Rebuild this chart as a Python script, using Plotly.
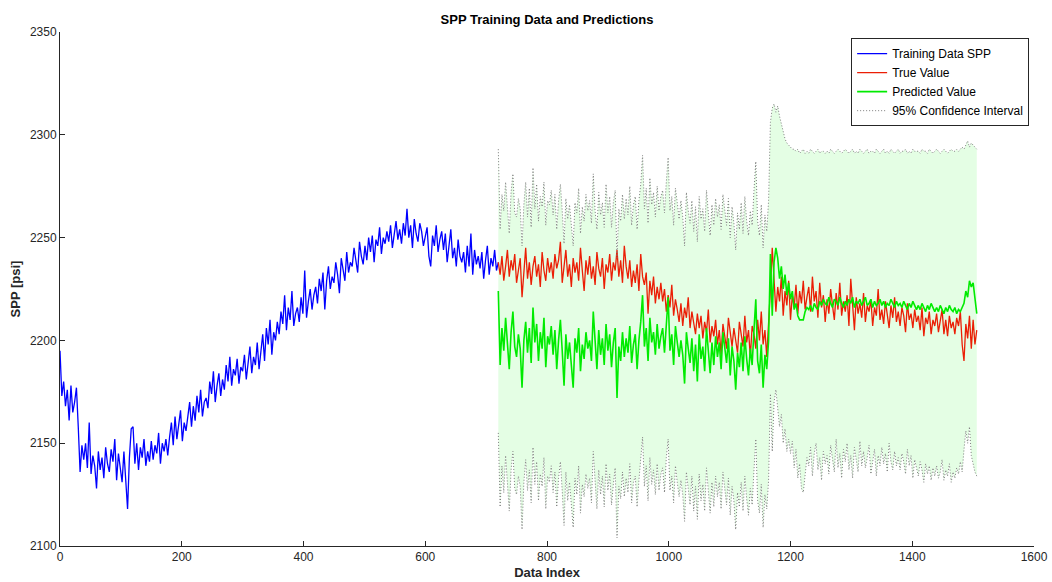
import plotly.graph_objects as go

# Training SPP record, sampled every 3 indices (0 .. 720)
train_idx = list(range(0, 721, 3))
train_spp = [
    2195, 2173, 2180, 2168, 2176, 2161, 2178, 2165, 2170, 2177,
    2158, 2136, 2149, 2142, 2150, 2138, 2160, 2135, 2144, 2139,
    2128, 2146, 2137, 2143, 2133, 2148, 2140, 2136, 2147, 2141,
    2152, 2132, 2145, 2137, 2131, 2146, 2129, 2118, 2143, 2157,
    2158, 2140, 2150, 2137, 2148, 2143, 2152, 2139, 2146, 2141,
    2151, 2142, 2149, 2145, 2155, 2140, 2150, 2146, 2152, 2144,
    2153, 2160, 2149, 2163, 2152, 2158, 2166, 2151, 2160, 2156,
    2162, 2170, 2158, 2168, 2161, 2173, 2165, 2176, 2163, 2170,
    2172, 2167, 2180, 2174, 2185, 2170, 2178, 2184, 2173, 2181,
    2176, 2188, 2180, 2192, 2178, 2186, 2183, 2191, 2179, 2187,
    2185, 2193, 2181, 2190, 2197, 2184, 2192, 2188, 2199, 2186,
    2195, 2203, 2190, 2206, 2198, 2210, 2193, 2204, 2200, 2209,
    2203, 2214, 2208, 2222, 2205, 2216, 2210, 2224, 2207, 2213,
    2216, 2209, 2221, 2213, 2234, 2211, 2219, 2225, 2215, 2222,
    2226, 2218, 2230, 2224, 2233, 2215, 2229, 2236, 2225, 2231,
    2228, 2238, 2232, 2223, 2240, 2235, 2229, 2243, 2233, 2238,
    2236, 2245, 2240, 2233, 2248, 2241, 2237, 2246, 2239, 2250,
    2243, 2251, 2238, 2249, 2246, 2255, 2242, 2250, 2247, 2253,
    2248, 2256, 2245, 2252, 2258, 2249, 2254, 2247, 2257, 2251,
    2264, 2250, 2256, 2245, 2259, 2252, 2248, 2257, 2253, 2246,
    2250, 2255, 2241, 2236, 2251, 2246, 2256, 2243, 2249, 2253,
    2244, 2252, 2238, 2247, 2254, 2240, 2245, 2236, 2249, 2241,
    2238, 2243, 2233, 2246, 2236, 2252, 2232, 2244, 2237, 2241,
    2235, 2243, 2230, 2239, 2246, 2232, 2240, 2236, 2244, 2234,
    2238,
]

# Test section, sampled every 3 indices (720 .. 1506)
test_idx = list(range(720, 1507, 3))
true_spp = [
    2238, 2232, 2241, 2229, 2236, 2244, 2231, 2239, 2234, 2242,
    2228, 2235, 2240, 2221, 2233, 2245, 2230, 2238, 2227, 2236,
    2241, 2231, 2237, 2226, 2243, 2234, 2229, 2240, 2233, 2238,
    2230, 2242, 2235, 2239, 2248, 2228, 2236, 2244, 2231, 2237,
    2226, 2240, 2233, 2238, 2229, 2245, 2234, 2224, 2239, 2232,
    2241, 2230, 2236, 2227, 2243, 2235, 2231, 2240, 2225, 2237,
    2233, 2242, 2229, 2238, 2234, 2244, 2231, 2239, 2228, 2246,
    2236, 2230, 2239, 2226, 2234, 2228, 2237, 2224, 2242, 2231,
    2227, 2233, 2213, 2229, 2222, 2231, 2218, 2226, 2220, 2228,
    2219, 2225, 2214, 2222, 2216, 2227, 2212, 2220, 2215, 2209,
    2218, 2207, 2216, 2211, 2221, 2206, 2214, 2209, 2203, 2213,
    2206, 2212, 2201, 2209, 2204, 2215, 2199, 2207, 2202, 2210,
    2198, 2205, 2193, 2208, 2201, 2196, 2211, 2203, 2197, 2206,
    2201, 2194, 2209, 2203, 2197, 2212, 2199, 2205, 2192, 2207,
    2203, 2196, 2210, 2200, 2214, 2198, 2205, 2192, 2206, 2225,
    2245, 2228, 2214, 2226, 2219, 2231, 2212, 2224, 2217, 2229,
    2210, 2222, 2216, 2227, 2213, 2224, 2218, 2229, 2215, 2221,
    2226, 2214, 2231, 2219, 2224, 2211, 2228, 2216, 2222, 2209,
    2220, 2213, 2225, 2217, 2210, 2223, 2215, 2228, 2212, 2219,
    2214, 2222, 2207, 2230, 2216, 2205, 2221, 2213, 2218, 2211,
    2223, 2209, 2217, 2214, 2220, 2207, 2216, 2212, 2225, 2210,
    2215, 2208, 2219, 2212, 2206, 2217, 2211, 2221, 2209, 2214,
    2207, 2216, 2212, 2204, 2218, 2210, 2213, 2206, 2215, 2209,
    2212, 2205, 2216, 2202, 2211, 2208, 2214, 2203, 2210, 2207,
    2213, 2204, 2209, 2215, 2203, 2210, 2202, 2212, 2206, 2209,
    2203, 2211, 2207, 2214, 2198, 2190, 2208, 2201, 2212, 2196,
    2210, 2198, 2205,
]
pred_spp = [
    2224, 2188, 2206, 2195, 2211, 2198, 2186, 2204, 2214, 2197,
    2192, 2203, 2196, 2177, 2200, 2209, 2194, 2206, 2189, 2216,
    2199, 2208, 2190, 2204, 2196, 2211, 2187, 2202, 2198, 2207,
    2193, 2205, 2186, 2200, 2210, 2195, 2178, 2203, 2191, 2199,
    2188, 2177, 2201, 2194, 2206, 2185, 2198, 2191, 2204, 2196,
    2200, 2190, 2214, 2197, 2186, 2205, 2193, 2201, 2188, 2208,
    2195, 2203, 2187, 2199, 2206, 2172, 2197, 2190, 2204, 2192,
    2201, 2194, 2207, 2189, 2198, 2203, 2186, 2200, 2209, 2222,
    2197, 2206, 2190, 2211, 2199, 2204, 2193, 2208, 2196, 2202,
    2206, 2194, 2210, 2221, 2195, 2203, 2188, 2207, 2199, 2192,
    2200, 2193, 2179, 2204, 2196, 2189, 2201, 2185, 2198, 2180,
    2203, 2191, 2197, 2185, 2206, 2194, 2184, 2199, 2188, 2202,
    2192, 2199, 2186, 2204, 2195, 2189, 2201, 2183, 2197, 2190,
    2176, 2194, 2187, 2199, 2185, 2202, 2191, 2183, 2196, 2188,
    2205, 2220, 2190, 2184, 2198, 2177, 2193, 2186, 2200, 2242,
    2212, 2238, 2245, 2240, 2230, 2236, 2225, 2232, 2222, 2228,
    2220, 2224, 2215, 2218, 2212, 2210, 2210, 2210, 2214, 2216,
    2215, 2217, 2214, 2218, 2216, 2215, 2219, 2217, 2220, 2218,
    2217, 2221, 2218, 2216, 2220, 2219, 2217, 2221, 2218, 2216,
    2219, 2217, 2220, 2218, 2221, 2216, 2219, 2218, 2220, 2217,
    2219, 2221, 2217, 2218, 2220, 2216, 2219, 2217, 2218, 2220,
    2217, 2219, 2216, 2218, 2217, 2220, 2218, 2216, 2219, 2217,
    2218, 2216, 2219, 2217, 2215, 2218, 2216, 2219, 2217, 2215,
    2217, 2215, 2218, 2216, 2214, 2217, 2215, 2218, 2216, 2214,
    2216, 2214, 2217, 2215, 2213, 2216, 2214, 2217, 2215, 2214,
    2216, 2213, 2215, 2214, 2216, 2218, 2224, 2221, 2229, 2226,
    2228, 2221, 2213,
]
ci_upper = [
    2293, 2254, 2271, 2263, 2277, 2266, 2252, 2272, 2281, 2262,
    2260, 2269, 2264, 2246, 2266, 2277, 2260, 2274, 2255, 2284,
    2264, 2276, 2258, 2270, 2265, 2277, 2256, 2268, 2266, 2273,
    2261, 2271, 2254, 2268, 2276, 2263, 2247, 2269, 2259, 2266,
    2256, 2246, 2267, 2262, 2274, 2252, 2265, 2258, 2271, 2263,
    2268, 2257, 2281, 2263, 2254, 2272, 2261, 2267, 2255, 2276,
    2262, 2270, 2255, 2267, 2273, 2240, 2264, 2258, 2271, 2259,
    2269, 2261, 2275, 2256, 2266, 2270, 2254, 2268, 2276, 2290,
    2264, 2274, 2257, 2279, 2266, 2272, 2260, 2275, 2263, 2270,
    2273, 2262, 2277, 2289, 2263, 2270, 2256, 2274, 2267, 2259,
    2268, 2260, 2246, 2272, 2263, 2257, 2268, 2253, 2265, 2248,
    2270, 2259, 2264, 2253, 2273, 2262, 2251, 2266, 2256, 2269,
    2260, 2266, 2254, 2271, 2263, 2256, 2269, 2250, 2265, 2257,
    2244, 2262, 2254, 2267, 2252, 2270, 2258, 2251, 2263, 2256,
    2273, 2287, 2258, 2251, 2266, 2245, 2261, 2253, 2268, 2306,
    2313, 2315, 2311, 2314, 2309, 2305, 2301, 2298, 2296, 2295,
    2294, 2293, 2293, 2292, 2293, 2291, 2292, 2293, 2291, 2292,
    2291, 2293, 2292, 2291, 2292, 2293, 2291, 2292, 2292, 2291,
    2292, 2291, 2293, 2292, 2291, 2292, 2293, 2292, 2291, 2292,
    2293, 2292, 2291, 2292, 2293, 2291, 2292, 2291, 2293, 2292,
    2291, 2292, 2293, 2291, 2292, 2292, 2291, 2293, 2292, 2291,
    2292, 2293, 2291, 2292, 2291, 2293, 2292, 2291, 2292, 2293,
    2291, 2292, 2292, 2293, 2291, 2292, 2291, 2293, 2292, 2292,
    2292, 2291, 2293, 2292, 2292, 2291, 2293, 2292, 2291, 2292,
    2293, 2292, 2291, 2292, 2293, 2292, 2291, 2292, 2293, 2292,
    2292, 2293, 2292, 2293, 2294, 2293, 2295, 2297, 2294, 2296,
    2295, 2294, 2293,
]
ci_lower = [
    2155, 2119, 2139, 2126, 2144, 2129, 2117, 2137, 2146, 2128,
    2125, 2134, 2129, 2108, 2131, 2142, 2127, 2137, 2121, 2148,
    2130, 2141, 2122, 2135, 2129, 2143, 2118, 2134, 2131, 2139,
    2126, 2136, 2119, 2133, 2141, 2127, 2110, 2136, 2122, 2131,
    2120, 2109, 2133, 2125, 2139, 2116, 2130, 2124, 2135, 2128,
    2133, 2121, 2146, 2129, 2118, 2137, 2125, 2134, 2119, 2140,
    2127, 2135, 2120, 2130, 2138, 2104, 2129, 2123, 2136, 2124,
    2133, 2126, 2140, 2121, 2131, 2134, 2119, 2132, 2141, 2153,
    2129, 2139, 2122, 2143, 2130, 2137, 2125, 2140, 2127, 2135,
    2138, 2126, 2143, 2152, 2127, 2134, 2121, 2139, 2131, 2124,
    2132, 2125, 2112, 2136, 2128, 2120, 2134, 2117, 2129, 2113,
    2135, 2122, 2130, 2117, 2138, 2126, 2116, 2131, 2119, 2134,
    2124, 2131, 2118, 2136, 2127, 2120, 2133, 2115, 2129, 2122,
    2108, 2126, 2119, 2131, 2117, 2134, 2123, 2115, 2128, 2120,
    2137, 2152, 2122, 2116, 2130, 2109, 2125, 2118, 2132, 2174,
    2146, 2170, 2176, 2168, 2158, 2164, 2150, 2157, 2146, 2152,
    2145, 2151, 2138, 2147, 2133, 2140, 2128, 2126, 2135, 2143,
    2139, 2148, 2134, 2145, 2150, 2137, 2143, 2132, 2146, 2140,
    2144, 2135, 2149, 2141, 2136, 2152, 2138, 2145, 2133, 2147,
    2141, 2150, 2137, 2144, 2133, 2148, 2142, 2136, 2151, 2139,
    2146, 2138, 2143, 2149, 2135, 2142, 2147, 2134, 2144, 2139,
    2148, 2140, 2145, 2136, 2150, 2141, 2137, 2146, 2139, 2143,
    2137, 2145, 2141, 2135, 2147, 2139, 2144, 2133, 2142, 2138,
    2134, 2141, 2137, 2131, 2140, 2135, 2139, 2132, 2138, 2134,
    2139, 2133, 2136, 2142, 2132, 2137, 2134, 2140, 2131, 2136,
    2133, 2138, 2135, 2141, 2136, 2147, 2156, 2150, 2158, 2144,
    2140, 2136, 2134,
]

x_ticks = [0, 200, 400, 600, 800, 1000, 1200, 1400, 1600]
y_ticks = [2100, 2150, 2200, 2250, 2300, 2350]

FONT = "Liberation Sans, Arial, Helvetica, sans-serif"
AXIS_COLOR = "#262626"

fig = go.Figure()

# Shaded band between the interval bounds
fig.add_trace(go.Scatter(
    x=test_idx + test_idx[::-1],
    y=ci_upper + ci_lower[::-1],
    fill="toself",
    fillcolor="rgb(228,254,228)",
    line=dict(width=0),
    mode="lines",
    hoverinfo="skip",
    showlegend=False,
))

fig.add_trace(go.Scatter(
    x=train_idx, y=train_spp, mode="lines", name="Training Data SPP",
    line=dict(color="rgb(0,0,255)", width=1.3),
))
fig.add_trace(go.Scatter(
    x=test_idx, y=true_spp, mode="lines", name="True Value",
    line=dict(color="rgb(235,30,5)", width=1.3),
))
fig.add_trace(go.Scatter(
    x=test_idx, y=pred_spp, mode="lines", name="Predicted Value",
    line=dict(color="rgb(0,235,0)", width=1.6),
))
fig.add_trace(go.Scatter(
    x=test_idx, y=ci_upper, mode="lines", name="95% Confidence Interval",
    line=dict(color="rgb(125,125,125)", width=1, dash="1px,2px"),
))
fig.add_trace(go.Scatter(
    x=test_idx, y=ci_lower, mode="lines", name="95% Confidence Interval",
    line=dict(color="rgb(125,125,125)", width=1, dash="1px,2px"),
    showlegend=False,
))

axis_common = dict(
    showline=True, linecolor=AXIS_COLOR, linewidth=1,
    ticks="inside", ticklen=5, tickcolor=AXIS_COLOR,
    showgrid=False, zeroline=False, mirror=False, automargin=False,
    tickfont=dict(family=FONT, size=12, color=AXIS_COLOR),
)

fig.update_layout(
    width=1052, height=582,
    margin=dict(l=60, r=18, t=32, b=36),
    paper_bgcolor="white", plot_bgcolor="white",
    title=dict(
        text="<b>SPP Training Data and Predictions</b>",
        x=0.52, xanchor="center", y=0.967, yanchor="middle",
        font=dict(family=FONT, size=13, color="black"),
    ),
    xaxis=dict(
        range=[0, 1600], tickvals=x_ticks,
        title=dict(text="<b>Data Index</b>", standoff=4,
                   font=dict(family=FONT, size=13, color=AXIS_COLOR)),
        **axis_common,
    ),
    yaxis=dict(
        range=[2100, 2350], tickvals=y_ticks,
        title=dict(text="<b>SPP [psi]</b>", standoff=6,
                   font=dict(family=FONT, size=13, color=AXIS_COLOR)),
        **axis_common,
    ),
    legend=dict(
        x=0.995, y=0.988, xanchor="right", yanchor="top",
        bgcolor="white", bordercolor=AXIS_COLOR, borderwidth=1,
        font=dict(family=FONT, size=12, color="black"),
        itemwidth=30, tracegroupgap=0,
    ),
    showlegend=True,
)

fig.write_html("out.html")
